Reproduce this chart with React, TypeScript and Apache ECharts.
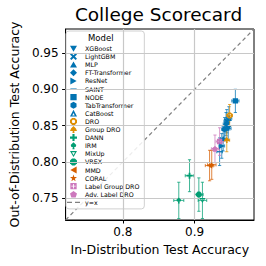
import React, { useEffect, useRef } from "react";
import * as echarts from "echarts";

const modelNames = [
  "XGBoost", "LightGBM", "MLP", "FT-Transformer", "ResNet", "SAINT", "NODE",
  "TabTransformer", "CatBoost", "DRO", "Group DRO", "DANN", "IRM", "MixUp",
  "VREX", "MMD", "CORAL", "Label Group DRO", "Adv. Label DRO",
];
const modelColorIndex = [0, 0, 0, 0, 0, 0, 0, 0, 0, 1, 1, 2, 2, 2, 2, 3, 3, 4, 4];
const idAcc = [0.947, 0.945, 0.940, 0.944, 0.938, 0.935, 0.957, 0.942, 0.948, 0.949, 0.945, 0.893, 0.878, 0.911, 0.906, 0.921, 0.924, 0.935, 0.9285];
const oodAcc = [0.846, 0.856, 0.832, 0.852, 0.822, 0.814, 0.884, 0.845, 0.860, 0.864, 0.830, 0.781, 0.747, 0.747, 0.755, 0.795, 0.796, 0.828, 0.818];
const idErr = [0.004, 0.004, 0.004, 0.004, 0.004, 0.004, 0.005, 0.004, 0.004, 0.004, 0.004, 0.006, 0.007, 0.006, 0.006, 0.006, 0.006, 0.005, 0.005];
const oodErr = [0.016, 0.016, 0.017, 0.016, 0.017, 0.019, 0.016, 0.016, 0.016, 0.015, 0.016, 0.022, 0.025, 0.025, 0.023, 0.021, 0.020, 0.019, 0.019];
const xTicks = [0.8, 0.9];
const yTicks = [0.75, 0.8, 0.85, 0.9, 0.95];
const axisMin = 0.72;
const axisMax = 0.983;

const palette = ["#0173b2", "#de8f05", "#029e73", "#d55e00", "#cc78bc"];

// tiny corner dots keep every path's bounding box square (10x10)
const BOX = "M0,0L0.01,0L0,0.01ZM10,10L9.99,10L10,9.99Z";
const symbols = [
  "path://M0,1L10,1L5,9.5Z" + BOX,
  "path://M2,0L5,3L8,0L10,2L7,5L10,8L8,10L5,7L2,10L0,8L3,5L0,2Z",
  "path://M5,0.5L10,9L0,9Z" + BOX,
  "path://M5,0L10,5L5,10L0,5Z",
  "path://M0.5,0L9.5,5L0.5,10Z" + BOX,
  "path://M0.5,4.3L9.5,4.3L9.5,5.7L0.5,5.7Z" + BOX,
  "path://M0.5,0.5L9.5,0.5L9.5,9.5L0.5,9.5Z" + BOX,
  "path://M5,0L9.33,2.5L9.33,7.5L5,10L0.67,7.5L0.67,2.5Z",
  "path://M5,0L10,9.5L0,9.5ZM5,4.5L3.2,8L6.8,8Z" + BOX,
  "path://M3,0L7,0L10,3L10,7L7,10L3,10L0,7L0,3ZM3.9,2.8L2.8,3.9L2.8,6.1L3.9,7.2L6.1,7.2L7.2,6.1L7.2,3.9L6.1,2.8Z",
  "path://M5,0L8.5,3.5L10,7L6,7L6.5,10L3.5,10L4,7L0,7L1.5,3.5Z",
  "path://M3.5,0L6.5,0L6.5,3.5L10,3.5L10,6.5L6.5,6.5L6.5,10L3.5,10L3.5,6.5L0,6.5L0,3.5L3.5,3.5Z",
  "path://M5,0L9,4L8,7L6,7L6.5,10L3.5,10L4,7L2,7L1,4Z" + BOX,
  "path://M0,1L10,1L5,9.5ZM5,6.6L7.2,2.7L2.8,2.7Z" + BOX,
  "path://M3,0L7,0L10,3L10,7L7,10L3,10L0,7L0,3Z",
  "path://M9.5,0L0.5,5L9.5,10Z" + BOX,
  "path://M5,0L6.2,3.6L10,3.6L6.9,5.9L8.1,9.5L5,7.3L1.9,9.5L3.1,5.9L0,3.6L3.8,3.6Z" + BOX,
  "path://M0.5,0.5L9.5,0.5L9.5,9.5L0.5,9.5ZM4.4,1.8L4.4,4.4L1.8,4.4L1.8,5.6L4.4,5.6L4.4,8.2L5.6,8.2L5.6,5.6L8.2,5.6L8.2,4.4L5.6,4.4L5.6,1.8Z" + BOX,
  "path://M5,0.3L10,4L8.1,9.7L1.9,9.7L0,4Z" + BOX,
];
const diagIcon = "path://M0,4.4L5,4.4L5,5.6L0,5.6ZM8,4.4L13,4.4L13,5.6L8,5.6Z";

const FONT = "DejaVu Sans";

export default function App() {
  const ref = useRef<HTMLDivElement>(null);
  useEffect(() => {
    if (!ref.current) return;
    const chart = echarts.init(ref.current, undefined, { renderer: "svg" });

    const errData = modelNames.map((_, i) => [idAcc[i], oodAcc[i], idErr[i], oodErr[i], modelColorIndex[i]]);

    const scatterSeries = modelNames.map((name, i) => ({
      name,
      type: "scatter",
      symbol: symbols[i],
      symbolSize: 6,
      itemStyle: { color: palette[modelColorIndex[i]], opacity: 1 },
      data: [[idAcc[i], oodAcc[i]]],
      z: 5,
    }));

    const option: any = {
      animation: false,
      title: {
        text: "College Scorecard",
        left: 158.5,
        top: 5,
        textAlign: "center",
        padding: 0,
        textStyle: { fontFamily: FONT, fontSize: 18.5, fontWeight: "normal", color: "#000" },
      },
      grid: { left: 63, right: 12, top: 29, bottom: 46, show: true, borderColor: "#000", borderWidth: 1, backgroundColor: "transparent" },
      xAxis: {
        type: "value",
        min: axisMin,
        max: axisMax,
        name: "In-Distribution Test Accuracy",
        nameLocation: "middle",
        nameGap: 23,
        nameTextStyle: { fontFamily: FONT, fontSize: 12.5, color: "#000" },
        axisLine: { show: true, lineStyle: { color: "#000", width: 1 } },
        axisTick: { show: true, length: 3.5, customValues: xTicks, lineStyle: { color: "#000" } },
        axisLabel: { customValues: xTicks, formatter: (v: number) => v.toFixed(1), fontFamily: FONT, fontSize: 12, color: "#000", margin: 6 },
        splitLine: { show: false },
      },
      yAxis: {
        type: "value",
        min: axisMin,
        max: axisMax,
        name: "Out-of-Distribution Test Accuracy",
        nameLocation: "middle",
        nameGap: 33,
        nameTextStyle: { fontFamily: FONT, fontSize: 12.5, color: "#000" },
        axisLine: { show: true, lineStyle: { color: "#000", width: 1 } },
        axisTick: { show: true, length: 3.5, customValues: yTicks, lineStyle: { color: "#000" } },
        axisLabel: { customValues: yTicks, formatter: (v: number) => v.toFixed(2), fontFamily: FONT, fontSize: 12, color: "#000", margin: 7 },
        splitLine: { show: false },
      },
      legend: {
        orient: "vertical",
        left: 66,
        top: 31,
        padding: [14, 5, 3, 1],
        itemWidth: 13,
        itemHeight: 7,
        itemGap: 1.1,
        selectedMode: false,
        backgroundColor: "rgba(255,255,255,0.85)",
        borderColor: "#d0d0d0",
        borderWidth: 1,
        borderRadius: 3,
        textStyle: { fontFamily: FONT, fontSize: 6.3, color: "#000", lineHeight: 7 },
        data: [...modelNames, { name: "y=x", icon: diagIcon, itemStyle: { color: "#808080" } }],
      },
      graphic: [
        {
          type: "text",
          left: 88,
          top: 33,
          z: 100,
          style: { text: "Model", fontFamily: FONT, fontSize: 8.5, fill: "#000" },
        },
      ],
      series: [
        {
          name: "__grid",
          type: "line",
          data: [],
          silent: true,
          z: 1,
          markLine: {
            silent: true,
            symbol: "none",
            label: { show: false },
            lineStyle: { color: "#c8c8c8", width: 1.2, type: "solid" },
            data: [...xTicks.map((v) => ({ xAxis: v })), ...yTicks.map((v) => ({ yAxis: v }))],
          },
        },
        {
          name: "y=x",
          type: "line",
          data: [[axisMin, axisMin], [axisMax, axisMax]],
          symbol: "none",
          lineStyle: { color: "#808080", width: 1.2, type: [4, 3] },
          itemStyle: { color: "#808080" },
          z: 2,
          silent: true,
        },
        {
          name: "__err",
          type: "custom",
          clip: true,
          z: 3,
          silent: true,
          data: errData,
          renderItem: (params: any, api: any) => {
            const x = api.value(0), y = api.value(1), xe = api.value(2), ye = api.value(3);
            const col = palette[api.value(4)];
            const top = api.coord([x, y + ye]);
            const bot = api.coord([x, y - ye]);
            const l = api.coord([x - xe, y]);
            const r = api.coord([x + xe, y]);
            const cap = 1.6;
            const st = { stroke: col, lineWidth: 1, opacity: 0.75 };
            return {
              type: "group",
              children: [
                { type: "line", shape: { x1: top[0], y1: top[1], x2: bot[0], y2: bot[1] }, style: st },
                { type: "line", shape: { x1: l[0], y1: l[1], x2: r[0], y2: r[1] }, style: st },
                { type: "line", shape: { x1: top[0] - cap, y1: top[1], x2: top[0] + cap, y2: top[1] }, style: st },
                { type: "line", shape: { x1: bot[0] - cap, y1: bot[1], x2: bot[0] + cap, y2: bot[1] }, style: st },
                { type: "line", shape: { x1: l[0], y1: l[1] - cap, x2: l[0], y2: l[1] + cap }, style: st },
                { type: "line", shape: { x1: r[0], y1: r[1] - cap, x2: r[0], y2: r[1] + cap }, style: st },
              ],
            };
          },
        },
        ...scatterSeries,
      ],
    };
    chart.setOption(option);
    return () => chart.dispose();
  }, []);
  return <div ref={ref} style={{ width: 266, height: 266, position: "absolute", left: 0, top: 0 }} />;
}
